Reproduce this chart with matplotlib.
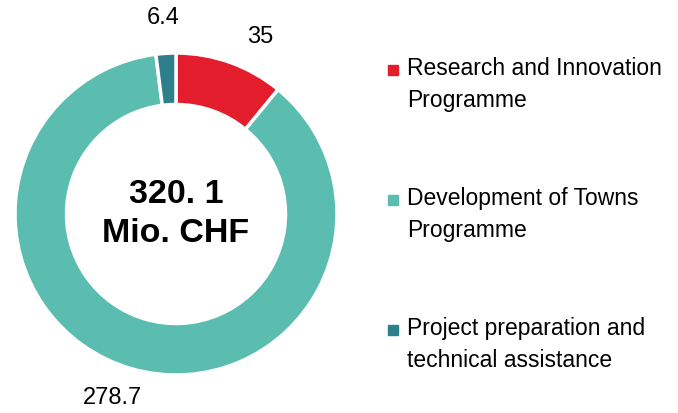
import matplotlib.pyplot as plt
from matplotlib.patches import Rectangle
from matplotlib import font_manager

categories = ['Research and Innovation\nProgramme',
              'Development of Towns\nProgramme',
              'Project preparation and\ntechnical assistance']
values = [35, 278.7, 6.4]
value_labels = ['35', '278.7', '6.4']
colors = ['#E31D2C', '#5BBDB0', '#2D7F8B']
total_label = '320. 1\nMio. CHF'

names = {f.name for f in font_manager.fontManager.ttflist}
fam = [f for f in ['Liberation Sans Narrow', 'Arial Narrow', 'Liberation Sans'] if f in names] + ['DejaVu Sans']
plt.rcParams['font.family'] = fam

W, H = 678, 413
fig = plt.figure(figsize=(W / 100, H / 100), dpi=100)
cx, cy, r = 176, 214, 161
ax = fig.add_axes([(cx - r) / W, (H - cy - r) / H, 2 * r / W, 2 * r / H])
ax.pie(values, colors=colors, startangle=90, counterclock=False, radius=1,
       wedgeprops=dict(width=0.32, edgecolor='white', linewidth=2.5))
ax.set_xlim(-1, 1)
ax.set_ylim(-1, 1)
ax.set_aspect('equal')
ax.text(0, 0.0, total_label, ha='center', va='center', fontsize=24.5,
        fontweight='bold', linespacing=1.35)

# value labels outside the ring (pixel positions)
label_pos = [(260, 37), (113, 398), (163, 18)]
for txt, (x, y) in zip(value_labels, label_pos):
    fig.text(x / W, 1 - y / H, txt, ha='center', va='center', fontsize=17)

# hand-made legend
leg_y = [70, 200, 330]
for cat, col, y in zip(categories, colors, leg_y):
    fig.patches.append(Rectangle((388 / W, 1 - (y + 5) / H), 10 / W, 10 / H,
                                 transform=fig.transFigure, color=col))
    fig.text(407 / W, 1 - (y - 13) / H, cat, ha='left', va='top',
             fontsize=16.5, linespacing=1.5)

fig.savefig('out.png', dpi=100)
